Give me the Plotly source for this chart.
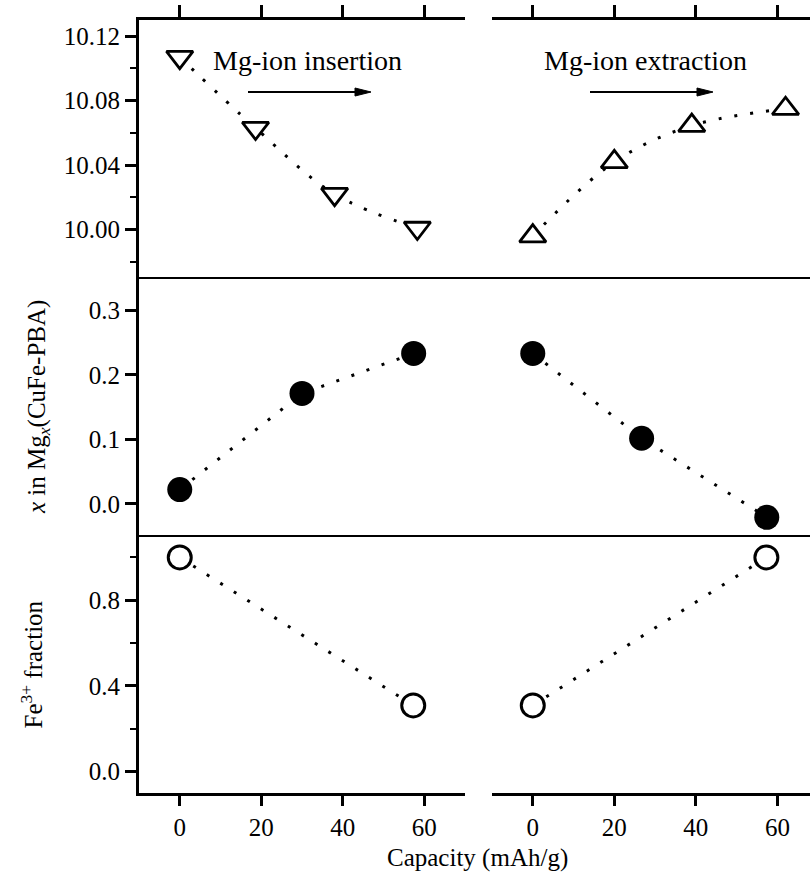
import plotly.graph_objects as go

# ---------------- data ----------------
cap_ins_lat = [0, 18.6, 38.0, 58.3]
lat_ins = [10.107, 10.063, 10.022, 10.001]
cap_ext_lat = [0, 20.0, 39.0, 62.0]
lat_ext = [9.996, 10.042, 10.0645, 10.075]

cap_ins_mg = [0, 30.0, 57.4]
mg_ins = [0.022, 0.171, 0.233]
cap_ext_mg = [0, 26.7, 57.4]
mg_ext = [0.233, 0.1015, -0.021]

cap_ins_fe = [0, 57.3]
fe_ins = [1.0, 0.309]
cap_ext_fe = [0, 57.3]
fe_ext = [0.309, 1.0]

x_ticks = [0, 20, 40, 60]

FONT = "Liberation Serif, Times New Roman, serif"
W, H = 810, 873
L, R, T, B = 139, 0, 20, 80
pw, ph = W - L - R, H - T - B

def px_x(p):
    return (p - L) / pw

def px_y(p):
    return (H - B - p) / ph

y_top = [px_y(278), 1.0]
y_mid = [px_y(536), px_y(278)]
y_bot = [0.0, px_y(536)]
x_left = [0.0, px_x(465)]
x_right = [px_x(492), 1.0]

fig = go.Figure()

dot = "3px,13px"

def add(xs, ys, xa, ya, symbol, size, lw, fill, shape="linear"):
    fig.add_trace(go.Scatter(
        x=xs, y=ys, xaxis=xa, yaxis=ya, mode="lines+markers",
        line=dict(color="black", width=3, dash=dot, shape=shape),
        marker=dict(symbol=symbol, size=size, color=fill,
                    line=dict(color="black", width=lw)),
        showlegend=False, hoverinfo="skip"))

add(cap_ins_lat, lat_ins, "x", "y", "triangle-down", 23, 2.8, "white", "spline")
add(cap_ext_lat, lat_ext, "x2", "y2", "triangle-up", 23, 2.8, "white", "spline")
add(cap_ins_mg, mg_ins, "x3", "y3", "circle", 25, 0, "black")
add(cap_ext_mg, mg_ext, "x4", "y4", "circle", 25, 0, "black")
add(cap_ins_fe, fe_ins, "x5", "y5", "circle", 23, 3, "white")
add(cap_ext_fe, fe_ext, "x6", "y6", "circle", 23, 3, "white")

tickfont = dict(family=FONT, size=25, color="black")

def xaxis(domain, anchor, rng, where):
    d = dict(domain=domain, anchor=anchor, range=rng, showgrid=False, zeroline=False,
             tickvals=x_ticks, ticktext=[str(v) for v in x_ticks], tickfont=tickfont)
    if where == "top":
        d.update(side="top", showline=True, linecolor="black", linewidth=3,
                 ticks="outside", ticklen=12, tickwidth=3, tickcolor="black",
                 showticklabels=False)
    elif where == "bottom":
        d.update(side="bottom", showline=True, linecolor="black", linewidth=3,
                 ticks="outside", ticklen=10, tickwidth=3, tickcolor="black",
                 showticklabels=True)
    else:
        d.update(visible=False)
    return d

def yaxis(domain, anchor, rng, show, dtick=None, tick0=None, fmt=None, minor=None):
    d = dict(domain=domain, anchor=anchor, range=rng, showgrid=False, zeroline=False)
    if show:
        d.update(showline=True, linecolor="black", linewidth=3, ticks="outside",
                 ticklen=11, tickwidth=3, tickcolor="black", dtick=dtick, tick0=tick0,
                 tickformat=fmt, tickfont=tickfont)
        if minor:
            d["minor"] = dict(dtick=minor, tick0=tick0, ticks="outside", ticklen=6,
                              tickwidth=2, tickcolor="black", showgrid=False)
    else:
        d.update(visible=False)
    return d

rx_l = [-10, 70]
rx_r = [-10, 68]
ry_top = [9.97, 10.13]
ry_mid = [-0.05, 0.35]
ry_bot = [-0.1, 1.1]

fig.update_layout(
    width=W, height=H,
    margin=dict(l=L, r=R, t=T, b=B),
    paper_bgcolor="white", plot_bgcolor="white",
    font=dict(family=FONT, color="black"),
    xaxis=xaxis(x_left, "y", rx_l, "top"),
    yaxis=yaxis(y_top, "x", ry_top, True, 0.04, 10.0, ".2f", 0.02),
    xaxis2=xaxis(x_right, "y2", rx_r, "top"),
    yaxis2=yaxis(y_top, "x2", ry_top, False),
    xaxis3=xaxis(x_left, "y3", rx_l, "none"),
    yaxis3=yaxis(y_mid, "x3", ry_mid, True, 0.1, 0.0, ".1f"),
    xaxis4=xaxis(x_right, "y4", rx_r, "none"),
    yaxis4=yaxis(y_mid, "x4", ry_mid, False),
    xaxis5=xaxis(x_left, "y5", rx_l, "bottom"),
    yaxis5=yaxis(y_bot, "x5", ry_bot, True, 0.4, 0.0, ".1f", 0.2),
    xaxis6=xaxis(x_right, "y6", rx_r, "bottom"),
    yaxis6=yaxis(y_bot, "x6", ry_bot, False),
)

# separators between panels
for yy in (y_top[0], y_mid[0]):
    fig.add_shape(type="line", xref="paper", yref="paper", x0=0, x1=1, y0=yy, y1=yy,
                  line=dict(color="black", width=2))

ann_font = dict(family=FONT, size=28, color="black")
title_font = dict(family=FONT, size=25, color="black")

fig.add_annotation(xref="paper", yref="paper", x=px_x(211), y=px_y(60),
                   xanchor="left", yanchor="middle", text="Mg-ion insertion",
                   showarrow=False, font=ann_font)
fig.add_annotation(xref="paper", yref="paper", x=px_x(542), y=px_y(60),
                   xanchor="left", yanchor="middle", text="Mg-ion extraction",
                   showarrow=False, font=ann_font)
# direction arrows (decoration)
for x0, x1 in ((248, 371), (590, 713)):
    fig.add_shape(type="line", xref="paper", yref="paper", x0=px_x(x0), x1=px_x(x1 - 10),
                  y0=px_y(92), y1=px_y(92), line=dict(color="black", width=2))
    path = "M {a},{b} L {c},{d} L {a},{e} Z".format(
        a=px_x(x1 - 16), b=px_y(88), c=px_x(x1), d=px_y(92), e=px_y(96))
    fig.add_shape(type="path", xref="paper", yref="paper", path=path,
                  fillcolor="black", line=dict(color="black", width=1))

fig.add_annotation(xref="paper", yref="paper", x=px_x(38), y=(y_mid[0] + y_mid[1]) / 2,
                   xanchor="center", yanchor="middle", textangle=-90,
                   text="<i>x</i> in Mg<sub><i>x</i></sub>(CuFe-PBA)",
                   showarrow=False, font=title_font)
fig.add_annotation(xref="paper", yref="paper", x=px_x(31), y=(y_bot[0] + y_bot[1]) / 2,
                   xanchor="center", yanchor="middle", textangle=-90,
                   text="Fe<sup>3+</sup> fraction",
                   showarrow=False, font=title_font)
fig.add_annotation(xref="paper", yref="paper", x=px_x(478), y=px_y(858),
                   xanchor="center", yanchor="middle", text="Capacity (mAh/g)",
                   showarrow=False, font=title_font)

fig.write_html("out.html")
